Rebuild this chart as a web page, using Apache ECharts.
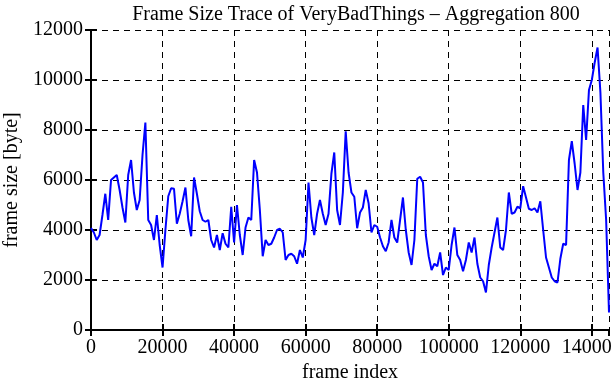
<!DOCTYPE html>
<html>
<head>
<meta charset="utf-8">
<script src="https://cdn.jsdelivr.net/npm/echarts@6/dist/echarts.min.js"></script>
<style>html,body{margin:0;padding:0;background:#fff}#c{width:611px;height:380px}</style>
</head>
<body>
<div id="c"></div>
<script>
var titleText = 'Frame Size Trace of VeryBadThings \u2013 Aggregation 800';
var aggregation = 800;
var xTicks = [0, 20000, 40000, 60000, 80000, 100000, 120000, 140000];
var yTicks = [0, 2000, 4000, 6000, 8000, 10000, 12000];
var frameSize = [
  4080, 3900, 3600, 3800, 4600, 5450, 4400, 6000, 6100, 6200,
  5600, 4900, 4300, 6200, 6800, 5500, 4800, 5200, 7000, 8300,
  4400, 4200, 3600, 4600, 3400, 2500, 4000, 5350, 5670, 5650,
  4250, 4650, 5150, 5700, 4400, 3750, 6100, 5450, 4750, 4400,
  4330, 4400, 3600, 3300, 3800, 3200, 3870, 3450, 3300, 4930,
  3500, 5000, 3800, 3000, 4100, 4500, 4400, 6800, 6300, 4800,
  2950, 3600, 3400, 3450, 3700, 4000, 4050, 3900, 2800, 3000,
  3050, 2950, 2650, 3200, 2900, 3600, 5900, 4500, 3800, 4650,
  5200, 4650, 4200, 4650, 6250, 7100, 4800, 4200, 5500, 7950,
  6300, 5500, 5330, 4070, 4700, 4900, 5600, 5070, 3900, 4200,
  4130, 3700, 3350, 3150, 3500, 4400, 3700, 3500, 4400, 5300,
  4000, 3100, 2600, 3600, 6050, 6130, 5900, 3800, 2950, 2400,
  2650, 2550, 3100, 2200, 2500, 2400, 3400, 4100, 3000, 2800,
  2350, 2800, 3500, 3100, 3700, 2650, 2100, 1950, 1500, 2600,
  3300, 3900, 4500, 3300, 3200, 4000, 5500, 4650, 4700, 4930,
  4870, 5750, 5300, 4850, 4800, 4870, 4700, 5150, 4000, 2900,
  2500, 2100, 1950, 1900, 2850, 3450, 3400, 6800, 7550, 6650,
  5600, 6300, 9000, 7600, 9600, 10000, 10700, 11300, 9500, 6300,
  4400, 700
];
var xMax = (frameSize.length - 1) * aggregation;
var seriesData = frameSize.map(function (v, i) { return [i * aggregation, v]; });

var FONT = '"Liberation Serif", "DejaVu Serif", serif';
var chart = echarts.init(document.getElementById('c'), null, {renderer: 'canvas'});
var axisLineStyle = {show: true, lineStyle: {color: '#000', width: 2}};
var tickStyle = {show: true, inside: true, length: 6, lineStyle: {color: '#000', width: 2}};
chart.setOption({
  animation: false,
  backgroundColor: '#fff',
  title: {
    text: titleText, left: 351, top: 0, textAlign: 'center',
    textStyle: {fontFamily: FONT, fontSize: 20, fontWeight: 'normal', color: '#000'}
  },
  grid: {left: 91, right: 2, top: 30, bottom: 50, containLabel: false, outerBoundsMode: 'none'},
  xAxis: [{
    type: 'value', min: 0, max: xMax, interval: 20000,
    name: 'frame index', nameLocation: 'middle', nameGap: 30,
    nameTextStyle: {fontFamily: FONT, fontSize: 20, color: '#000'},
    axisLine: axisLineStyle, axisTick: tickStyle,
    axisLabel: {fontFamily: FONT, fontSize: 20, color: '#000', margin: 8, showMaxLabel: false,
      formatter: function (v) { return xTicks.indexOf(v) >= 0 ? String(v) : ''; }},
    splitLine: {show: true, lineStyle: {color: '#000', width: 1, type: [6, 5]}}
  }, {
    type: 'value', position: 'top', min: 0, max: xMax, interval: 20000,
    axisLine: axisLineStyle, axisTick: tickStyle, axisLabel: {show: false}, splitLine: {show: false}
  }],
  yAxis: [{
    type: 'value', min: 0, max: 12000, interval: 2000,
    name: 'frame size [byte]', nameLocation: 'middle', nameGap: 68,
    nameTextStyle: {fontFamily: FONT, fontSize: 20, color: '#000'},
    axisLine: axisLineStyle, axisTick: tickStyle,
    axisLabel: {fontFamily: FONT, fontSize: 20, color: '#000', margin: 8,
      formatter: function (v) { return yTicks.indexOf(v) >= 0 ? String(v) : ''; }},
    splitLine: {show: true, lineStyle: {color: '#000', width: 1, type: [6, 5]}}
  }, {
    type: 'value', position: 'right', min: 0, max: 12000, interval: 2000,
    axisLine: axisLineStyle, axisTick: tickStyle, axisLabel: {show: false}, splitLine: {show: false}
  }],
  series: [{
    type: 'line', data: seriesData, xAxisIndex: 0, yAxisIndex: 0,
    showSymbol: false, symbol: 'none',
    lineStyle: {color: '#0000ff', width: 2}, itemStyle: {color: '#0000ff'}
  }]
});
</script>
</body>
</html>
